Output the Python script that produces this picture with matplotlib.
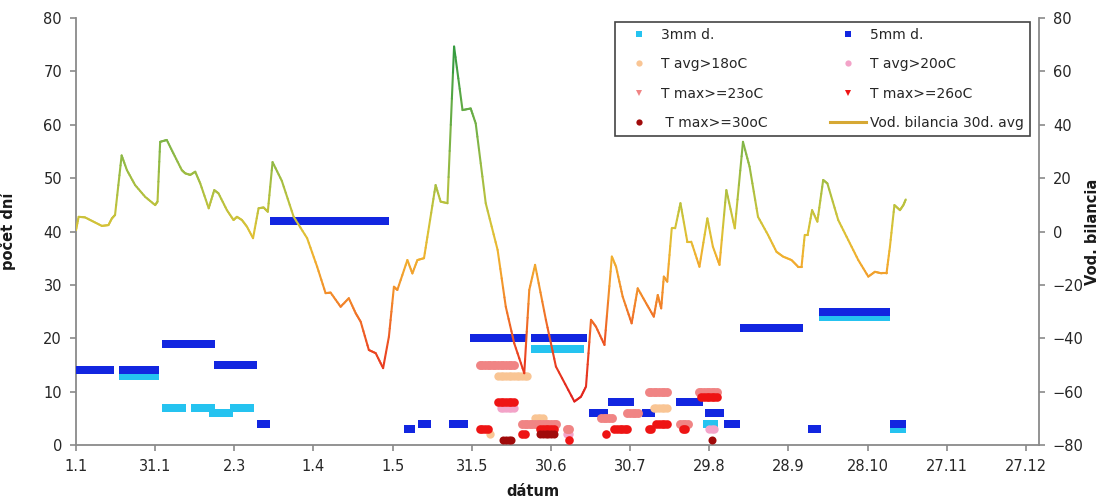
import numpy as np
import matplotlib
matplotlib.use("Agg")
import matplotlib.pyplot as plt
from matplotlib.collections import LineCollection
from matplotlib.colors import LinearSegmentedColormap, Normalize
from matplotlib.lines import Line2D

plt.rcParams['font.family'] = ['DejaVu Sans']

# x axis: day of year (non-leap year), ticks every 30 days
tick_days = [0, 30, 60, 90, 120, 150, 180, 210, 240, 270, 300, 330, 360]
tick_labels = ["1.1", "31.1", "2.3", "1.4", "1.5", "31.5", "30.6", "30.7",
               "29.8", "28.9", "28.10", "27.11", "27.12"]

# 30-day average water balance (right axis)
wb_day = [0, 1, 3.4, 6.6, 9.8, 12.3, 13.6, 14.8, 17.3, 19.3,
          22.4, 26.2, 30, 30.9, 31.9, 34.4, 36.9, 40.1, 41.4, 43.3,
          45.2, 47.1, 50.3, 52.4, 54, 57.2, 59.7, 61, 62.9, 64.8,
          67.1, 69.2, 71.1, 72.7, 74.5, 78, 82.5, 87.6, 91.4, 94.6,
          96.5, 100.3, 103.4, 106, 107.9, 111, 113.6, 116.4, 118.6, 120.5,
          121.8, 125.6, 127.5, 129.4, 131.9, 133.8, 136.3, 138.2, 140.8, 143.3,
          146.5, 149.6, 151.5, 155.3, 159.8, 162.9, 166.1, 169.9, 171.8, 174,
          178.1, 181.9, 188.9, 191.4, 193.3, 195.2, 197.1, 200.3, 203.1, 204.7,
          207.2, 210.6, 212.9, 216.1, 219, 220.5, 221.8, 222.8, 224.1, 225.8,
          227.1, 229.1, 231.7, 233.2, 236.3, 239.3, 241.4, 243.9, 246.5, 249.7,
          252.8, 255.3, 258.5, 262.3, 265.5, 268, 271.2, 273.7, 275, 276.2,
          277.3, 279, 281, 283.2, 284.8, 288.9, 292.7, 296.5, 300.3, 302.8,
          305.4, 307.2, 308.5, 310.2, 312.3, 313.6, 314.5]
wb_val = [0.5, 5.5, 5.3, 3.7, 2.1, 2.4, 4.9, 6.2, 28.5, 23,
          17.4, 13, 9.9, 11.2, 33.6, 34.3, 29.3, 23, 21.8, 21.2,
          22.4, 18, 8.7, 15.5, 14.3, 8, 4.3, 5.5, 4.3, 1.8,
          -2.5, 8.7, 9, 7.4, 26, 19, 5.5, -2.5, -13.2, -23.1,
          -22.9, -28.2, -25, -30.6, -33.8, -44.4, -45.6, -51.2, -39.4, -20.7,
          -21.9, -10.7, -15.7, -10.7, -10, 1.8, 17.4, 11.2, 10.6, 69.3,
          45.5, 46.1, 40.5, 10.6, -6.9, -28.2, -41.9, -53.1, -21.9, -12.5,
          -33.1, -50.6, -63.7, -61.9, -58.1, -33.1, -35.7, -42.5, -9.4, -13.2,
          -24.4, -34.4, -21.3, -26.9, -31.9, -23.8, -28.8, -16.9, -18.8, 1.2,
          1.2, 10.6, -3.8, -3.8, -13.2, 4.9, -5.7, -12.5, 15.5, 1.2,
          33.6, 24.3, 5.5, -1.3, -7.6, -9.4, -10.7, -13.2, -13.2, -1.3,
          -1.3, 8, 3.7, 19.3, 18, 4.3, -3.2, -10.7, -16.9, -15.1,
          -15.7, -15.7, -5.7, 9.9, 8, 9.9, 12]

# day counts, given as runs: (first day, last day, count)
rain_3mm = [(1, 13, 14), (18, 30, 13), (34, 40, 7), (45, 51, 7), (52, 58, 6),
            (60, 66, 7), (151, 169, 20), (174, 191, 18), (196, 199, 6),
            (239, 242, 4), (283, 307, 24), (310, 313, 3)]
rain_5mm = [(1, 13, 14), (18, 30, 14), (34, 51, 19), (54, 67, 15), (70, 72, 4),
            (75, 117, 42), (126, 127, 3), (131, 133, 4), (143, 147, 4),
            (151, 169, 20), (174, 192, 20), (196, 200, 6), (203, 210, 8),
            (216, 218, 6), (229, 236, 8), (240, 244, 6), (247, 250, 4),
            (253, 274, 22), (279, 281, 3), (283, 307, 25), (310, 313, 4)]
tavg_18 = [(157, 157, 2), (160, 171, 13), (174, 177, 5), (219, 224, 7)]
tavg_20 = [(161, 166, 7), (186, 187, 2), (240, 242, 3)]
tmax_23 = [(153, 166, 15), (169, 182, 4), (186, 187, 3), (199, 203, 5),
           (209, 213, 6), (217, 224, 10), (229, 232, 4), (236, 243, 10)]
tmax_26 = [(153, 156, 3), (160, 166, 8), (169, 170, 2), (176, 181, 3),
           (187, 187, 1), (201, 201, 2), (204, 209, 3), (217, 218, 3),
           (220, 224, 4), (230, 231, 3), (237, 243, 9)]
tmax_30 = [(162, 165, 1), (176, 181, 2), (241, 241, 1)]


def expand(runs):
    xs, ys = [], []
    for first, last, count in runs:
        d = np.arange(first, last + 1)
        xs.extend(d)
        ys.extend([count] * len(d))
    return np.array(xs, float), np.array(ys, float)


series = [
    (rain_3mm, "3mm d.", "#25c3f0", "s", 5.2),
    (rain_5mm, "5mm d.", "#1226e0", "s", 5.2),
    (tavg_18, "T avg>18oC", "#f9c594", "o", 6.0),
    (tavg_20, "T avg>20oC", "#f3a3c8", "o", 6.0),
    (tmax_23, "T max>=23oC", "#f08484", "o", 6.4),
    (tmax_26, "T max>=26oC", "#ee1414", "o", 6.2),
    (tmax_30, " T max>=30oC", "#a00a0a", "o", 5.8),
]
legend_marker = {"3mm d.": "s", "5mm d.": "s", "T avg>18oC": "o", "T avg>20oC": "o",
                 "T max>=23oC": "v", "T max>=26oC": "v", " T max>=30oC": "o"}

fig = plt.figure(figsize=(11.05, 5.01), dpi=100)
ax = fig.add_axes([76 / 1105, 56 / 501, (1039 - 76) / 1105, (445 - 18) / 501])
ax2 = ax.twinx()

handles = {}
for runs, label, color, marker, size in series:
    xs, ys = expand(runs)
    ax.plot(xs, ys, ls="none", marker=marker, ms=size, color=color,
            mec=color, mew=0, zorder=3)
    handles[label] = Line2D([], [], ls="none", marker=legend_marker[label],
                            ms=4.5, color=color, mec=color, mew=0)

# water balance line, coloured by its value
x = np.asarray(wb_day, float)
y = np.asarray(wb_val, float)
segs, cvals = [], []
n_sub = 6
for i in range(len(x) - 1):
    xs = np.linspace(x[i], x[i + 1], n_sub + 1)
    ys = np.linspace(y[i], y[i + 1], n_sub + 1)
    for j in range(n_sub):
        segs.append([(xs[j], ys[j]), (xs[j + 1], ys[j + 1])])
        cvals.append(0.5 * (ys[j] + ys[j + 1]))

nodes = [(-65, "#e01e1c"), (-45, "#ec4822"), (-25, "#f2892a"), (-10, "#f1b02f"),
         (0, "#dcc236"), (12, "#b6c13e"), (30, "#88b746"), (50, "#5aa845"),
         (70, "#2f993e")]
vmin, vmax = nodes[0][0], nodes[-1][0]
cmap = LinearSegmentedColormap.from_list(
    "wb", [((v - vmin) / (vmax - vmin), c) for v, c in nodes])
lc = LineCollection(segs, cmap=cmap, norm=Normalize(vmin, vmax),
                    linewidths=1.5, capstyle="round", joinstyle="round")
lc.set_array(np.array(cvals))
ax2.add_collection(lc)
handles["Vod. bilancia 30d. avg"] = Line2D([], [], color="#d6a834", lw=2.2)

# axes
ax.set_xlim(0, 365)
ax.set_ylim(0, 80)
ax2.set_ylim(-80, 80)
ax.set_xticks(tick_days)
ax.set_xticklabels(tick_labels)
ax.set_yticks(np.arange(0, 81, 10))
ax2.set_yticks(np.arange(-80, 81, 20))

spine_c = "#8a8a8a"
for a in (ax, ax2):
    a.spines["top"].set_visible(False)
    for side in ("left", "right", "bottom"):
        a.spines[side].set_color(spine_c)
        a.spines[side].set_linewidth(1.3)
    a.tick_params(colors=spine_c, labelcolor="#262626", labelsize=10.5,
                  length=4, width=1.2, pad=6)
ax.spines["right"].set_visible(False)
ax2.spines["left"].set_visible(False)
ax2.spines["bottom"].set_visible(False)

ax.set_xlabel("dátum", fontsize=10.5, fontweight="bold", color="#1a1a1a")
ax.xaxis.set_label_coords(0.475, -0.091)
ax.set_ylabel("počet dní", fontsize=10.5, fontweight="bold", color="#1a1a1a")
ax.yaxis.set_label_coords(-0.062, 0.5)
ax2.set_ylabel("Vod. bilancia", fontsize=10.5, fontweight="bold", color="#1a1a1a")
ax2.yaxis.set_label_coords(1.048, 0.5)

order = ["3mm d.", "T avg>18oC", "T max>=23oC", " T max>=30oC",
         "5mm d.", "T avg>20oC", "T max>=26oC", "Vod. bilancia 30d. avg"]
leg = ax2.legend([handles[k] for k in order], order, ncol=2,
                 loc="upper right", bbox_to_anchor=(1030 / 1105, 1 - 22 / 501),
                 bbox_transform=fig.transFigure, borderaxespad=0,
                 fontsize=10, frameon=True, fancybox=False, framealpha=1,
                 edgecolor="#444444", labelspacing=1.1, handlelength=2.6,
                 handletextpad=0.3, columnspacing=4.5, borderpad=0.43)
leg.get_frame().set_linewidth(1.2)
for t in leg.get_texts():
    t.set_color("#262626")

fig.savefig("out.png", dpi=100, facecolor="white")
